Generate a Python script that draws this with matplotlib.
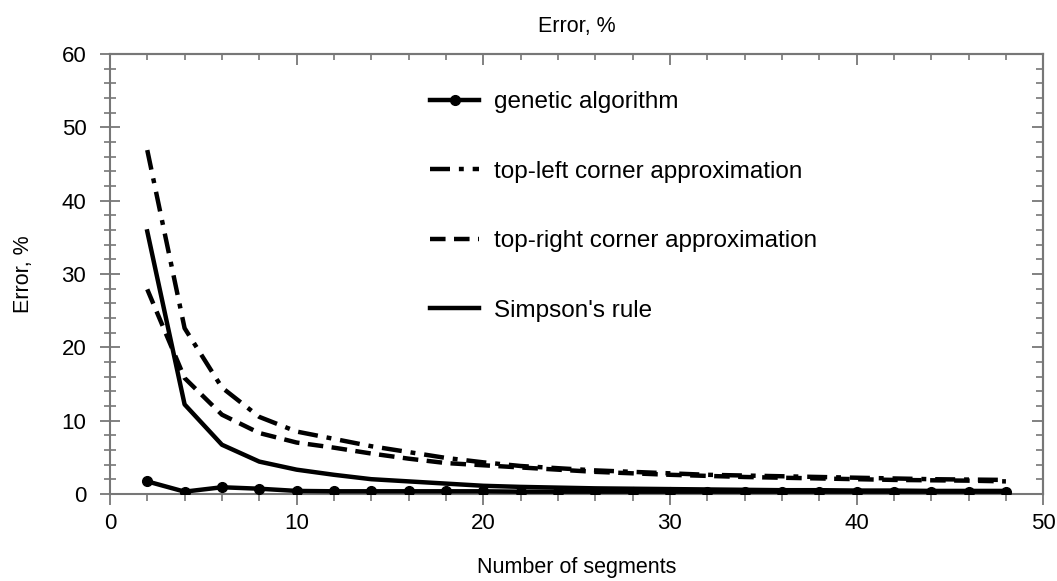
import matplotlib
matplotlib.use("Agg")
import matplotlib.pyplot as plt
from matplotlib.ticker import MultipleLocator

plt.rcParams['font.family'] = ['Liberation Sans', 'DejaVu Sans']

segments = [2, 4, 6, 8, 10, 12, 14, 16, 18, 20, 22, 24, 26, 28, 30, 32, 34, 36, 38, 40, 42, 44, 46, 48]
genetic = [1.7, 0.3, 0.9, 0.7, 0.4, 0.35, 0.35, 0.35, 0.35, 0.35, 0.3, 0.3, 0.3, 0.3, 0.3, 0.3, 0.3, 0.3, 0.3, 0.3, 0.3, 0.3, 0.3, 0.3]
top_left = [46.9, 22.6, 14.5, 10.5, 8.5, 7.5, 6.5, 5.7, 4.9, 4.3, 3.8, 3.5, 3.2, 3.0, 2.8, 2.6, 2.5, 2.4, 2.3, 2.2, 2.1, 2.0, 1.95, 1.9]
top_right = [27.9, 15.8, 10.8, 8.3, 7.0, 6.3, 5.5, 4.8, 4.2, 3.9, 3.6, 3.3, 3.0, 2.8, 2.6, 2.45, 2.3, 2.2, 2.1, 2.0, 1.9, 1.85, 1.8, 1.7]
simpson = [35.8, 12.2, 6.7, 4.4, 3.3, 2.6, 2.0, 1.7, 1.4, 1.1, 0.95, 0.85, 0.75, 0.7, 0.65, 0.6, 0.55, 0.5, 0.5, 0.45, 0.45, 0.4, 0.4, 0.4]

labels = ["genetic algorithm", "top-left corner approximation",
          "top-right corner approximation", "Simpson's rule"]

fig = plt.figure(figsize=(10.57, 5.81), dpi=100)
ax = fig.add_axes([0.104, 0.150, 0.883, 0.757])

lw = 3.2
ax.plot(segments, genetic, color='black', lw=lw, marker='o', markersize=7, label=labels[0], zorder=5)
ax.plot(segments, top_left, color='black', lw=lw, dashes=(4.5, 2, 1.1, 2), label=labels[1])
ax.plot(segments, top_right, color='black', lw=lw, dashes=(3.5, 1.9), label=labels[2])
ax.plot(segments, simpson, color='black', lw=lw, label=labels[3])

ax.set_xlim(0, 50)
ax.set_ylim(0, 60)
ax.xaxis.set_major_locator(MultipleLocator(10))
ax.xaxis.set_minor_locator(MultipleLocator(2))
ax.yaxis.set_major_locator(MultipleLocator(10))
ax.yaxis.set_minor_locator(MultipleLocator(2))

spine_col = '#777777'
for s in ax.spines.values():
    s.set_color(spine_col)
    s.set_linewidth(1.5)

ax.tick_params(axis='x', which='major', direction='out', length=8, width=1.3, color=spine_col,
               labelsize=16, pad=6, top=False)
ax.tick_params(axis='x', which='minor', direction='out', length=5, width=1.2, color=spine_col, top=False)
ax.tick_params(axis='y', which='major', direction='inout', length=14, width=1.3, color=spine_col,
               labelsize=16, pad=10, right=False)
ax.tick_params(axis='y', which='minor', direction='inout', length=9, width=1.2, color=spine_col, right=False)

# top & right inward ticks
secx = ax.secondary_xaxis('top')
secx.xaxis.set_major_locator(MultipleLocator(10))
secx.xaxis.set_minor_locator(MultipleLocator(2))
secx.tick_params(which='major', direction='in', length=8, width=1.3, color=spine_col, labeltop=False)
secx.tick_params(which='minor', direction='in', length=4, width=1.2, color=spine_col)
secx.spines['top'].set_color(spine_col)
secx.spines['top'].set_linewidth(1.5)

secy = ax.secondary_yaxis('right')
secy.yaxis.set_major_locator(MultipleLocator(10))
secy.yaxis.set_minor_locator(MultipleLocator(2))
secy.tick_params(which='major', direction='in', length=8, width=1.3, color=spine_col, labelright=False)
secy.tick_params(which='minor', direction='in', length=5, width=1.2, color=spine_col)
secy.spines['right'].set_color(spine_col)
secy.spines['right'].set_linewidth(1.5)

ax.set_xlabel("Number of segments", fontsize=15.5, labelpad=16)
ax.set_ylabel("Error, %", fontsize=15.5, labelpad=20)
ax.set_title("Error, %", fontsize=15.5, pad=16)

leg = ax.legend(loc='upper left', bbox_to_anchor=(0.32, 0.965), frameon=False, fontsize=17.5,
                handlelength=2.0, labelspacing=1.95, handletextpad=0.6)

fig.savefig("out.png", dpi=100)
